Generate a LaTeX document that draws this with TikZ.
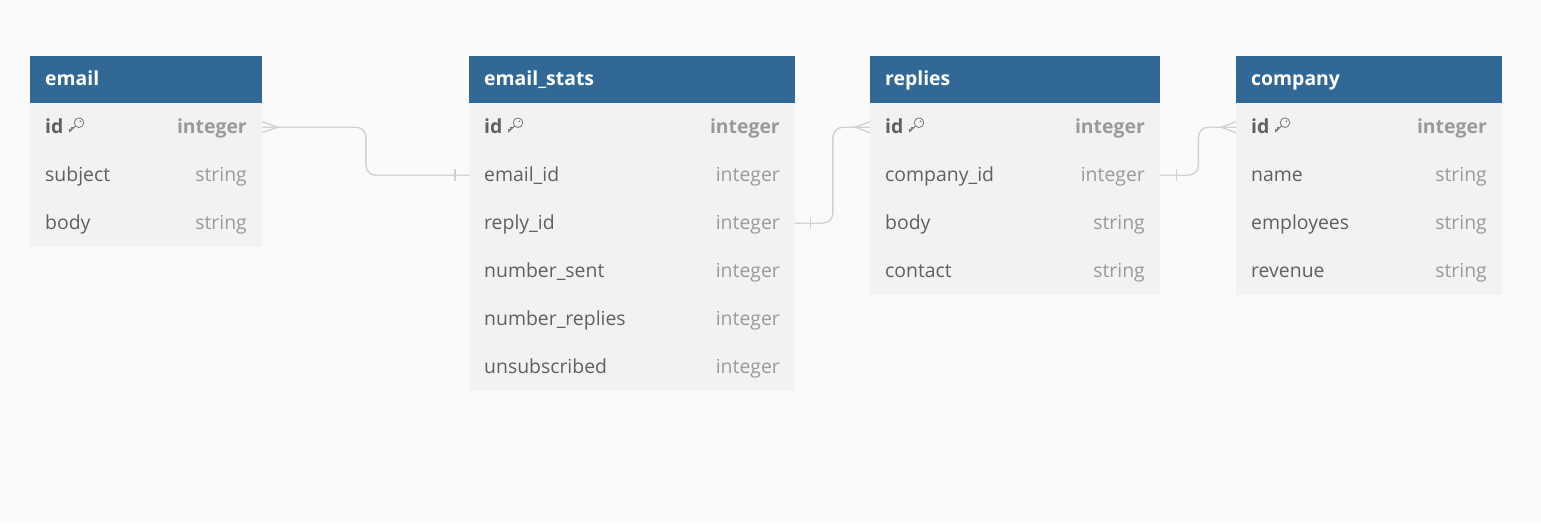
\documentclass[tikz,border=0pt]{standalone}
\usepackage{fontspec}
\setmainfont{Open Sans}
\definecolor{bg}{HTML}{FAFAFA}
\definecolor{hdrblue}{HTML}{316896}
\definecolor{rowgray}{HTML}{F2F2F2}
\definecolor{namegray}{HTML}{606060}
\definecolor{typegray}{HTML}{9A9A9A}
\definecolor{keygray}{HTML}{777777}
\definecolor{conngray}{HTML}{D2D2D2}
\tikzset{
  hdr/.style={fill=hdrblue, draw=none, minimum height=47pt, inner sep=0pt, anchor=north west},
  rowbox/.style={fill=rowgray, draw=none, minimum height=48pt, inner sep=0pt, anchor=north west},
  fname/.style={text=namegray, inner sep=0pt, anchor=base west, font=\fontsize{19.4}{22}\selectfont},
  ftype/.style={text=typegray, inner sep=0pt, anchor=base east, font=\fontsize{19.4}{22}\selectfont},
  ttl/.style={text=white, inner sep=0pt, anchor=base west, font=\fontsize{19.4}{22}\selectfont\bfseries},
  conn/.style={draw=conngray, line width=1.4pt},
  keyicon/.style={draw=keygray, line width=0.8pt, line cap=round, line join=round}
}
% #1 id, #2 x, #3 width, #4 title, #5 rows (name/type), #6 number of rows incl. id
\newcommand\erdTable[6]{%
  \fill[rowgray] (#2,103) rectangle ++(#3,{48*#6});
  \node[hdr, minimum width=#3pt] (#1) at (#2,56) {};
  \node[ttl] (#1-title) at (#2+15,85.5) {#4};
  \node[rowbox, minimum width=#3pt] (#1-1) at (#2,103) {};
  \node[fname, font=\fontsize{19.4}{22}\selectfont\bfseries] (#1-1n) at (#2+15,133.5) {id};
  \node[ftype, font=\fontsize{19.4}{22}\selectfont\bfseries] (#1-1t) at (#2+#3-15,133.5) {integer};
  \begin{scope}[shift={([xshift=5pt]#1-1n.base east)}]
    \draw[keyicon] (1.0,-1.6) -- (6.8,-7.4);
    \draw[keyicon] (1.0,-1.6) -- (1.0,-4.4) -- (3.0,-4.4) -- (3.0,-6.4) -- (5.0,-6.4);
    \draw[keyicon] (10.4,-10.8) circle[radius=4.8pt];
    \fill[keygray] (11.8,-12.2) circle[radius=0.9pt];
  \end{scope}
  \foreach \n/\t [count=\i from 2] in {#5} {
    \node[rowbox, minimum width=#3pt] (#1-\i) at (#2,{103+48*(\i-1)}) {};
    \node[fname] (#1-\i n) at (#2+15,{133.5+48*(\i-1)}) {\n};
    \node[ftype] (#1-\i t) at (#2+#3-15,{133.5+48*(\i-1)}) {\t};
  }
}
\begin{document}
\begin{tikzpicture}[x=1pt,y=-1pt]
\fill[bg] (0,0) rectangle (1541,523);
\useasboundingbox (0,0) rectangle (1541,523);

\erdTable{email}{30}{232}{email}{subject/string, body/string}{3}
\erdTable{stats}{469}{326}{email\_stats}{email\_id/integer, reply\_id/integer, number\_sent/integer, number\_replies/integer, unsubscribed/integer}{6}
\erdTable{replies}{870}{290}{replies}{company\_id/integer, body/string, contact/string}{4}
\erdTable{company}{1236}{266}{company}{name/string, employees/string, revenue/string}{4}

% email.id  >----|  email_stats.email_id
\draw[conn, rounded corners=10pt] (email-1.east) -- ++(103.5,0) |- (stats-2.west);
\draw[conn] ([yshift=5.5pt]email-1.east) -- ([xshift=15pt]email-1.east) -- ([yshift=-5.5pt]email-1.east);
\draw[conn] ([xshift=-14pt,yshift=6pt]stats-2.west) -- ([xshift=-14pt,yshift=-6pt]stats-2.west);

% email_stats.reply_id  |----<  replies.id
\draw[conn, rounded corners=10pt] (stats-3.east) -- ++(37.5,0) |- (replies-1.west);
\draw[conn] ([xshift=15pt,yshift=6pt]stats-3.east) -- ([xshift=15pt,yshift=-6pt]stats-3.east);
\draw[conn] ([yshift=5.5pt]replies-1.west) -- ([xshift=-15pt]replies-1.west) -- ([yshift=-5.5pt]replies-1.west);

% replies.company_id  |----<  company.id
\draw[conn, rounded corners=10pt] (replies-2.east) -- ++(38,0) |- (company-1.west);
\draw[conn] ([xshift=16pt,yshift=6pt]replies-2.east) -- ([xshift=16pt,yshift=-6pt]replies-2.east);
\draw[conn] ([yshift=5.5pt]company-1.west) -- ([xshift=-15pt]company-1.west) -- ([yshift=-5.5pt]company-1.west);
\end{tikzpicture}
\end{document}
